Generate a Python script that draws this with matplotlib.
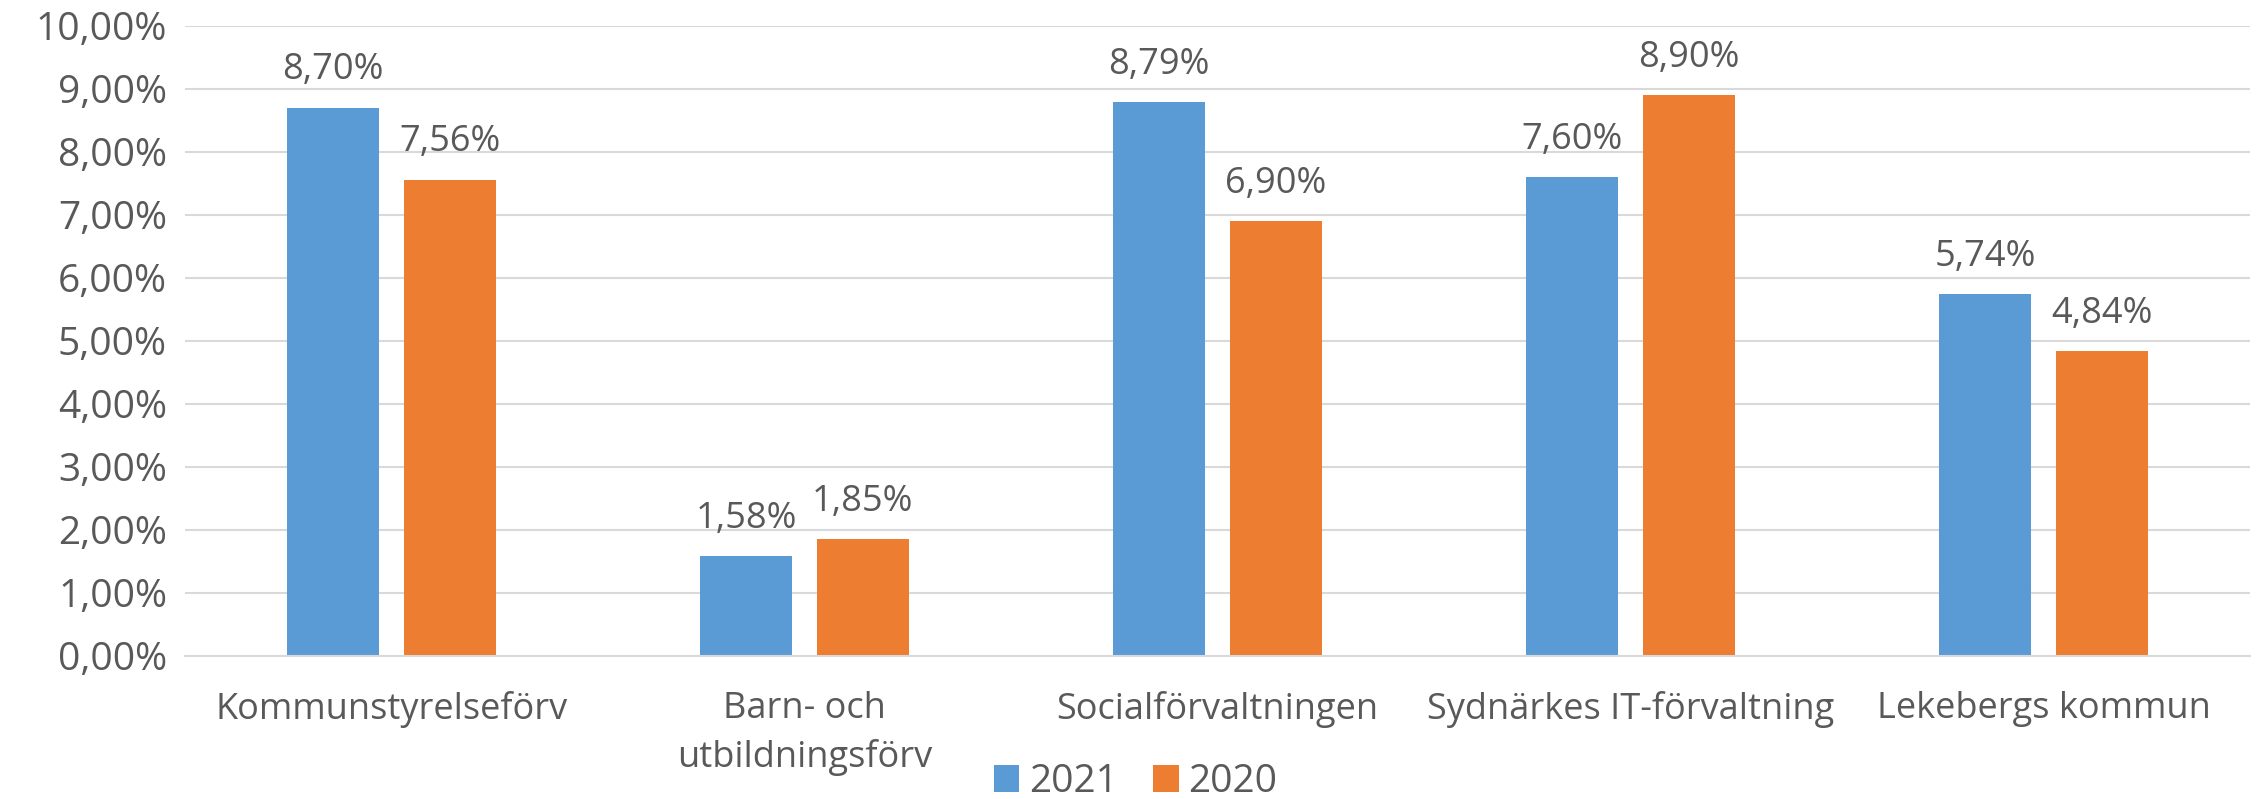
import matplotlib.pyplot as plt
from matplotlib.ticker import FuncFormatter, MultipleLocator
import numpy as np

# data
categories = ["Kommunstyrelseförv", "Barn- och\nutbildningsförv", "Socialförvaltningen",
              "Sydnärkes IT-förvaltning", "Lekebergs kommun"]
years = ["2021", "2020"]
values_2021 = [0.0870, 0.0158, 0.0879, 0.0760, 0.0574]
values_2020 = [0.0756, 0.0185, 0.0690, 0.0890, 0.0484]

blue = "#5B9BD5"
orange = "#ED7D31"
text_col = "#595959"

plt.rcParams['font.family'] = ['Open Sans', 'DejaVu Sans']


def pct(v, pos=None):
    return f"{v * 100:.2f}%".replace(".", ",")


fig = plt.figure(figsize=(22.62, 7.99), dpi=100)
ax = fig.add_axes([0.0818, 0.179, 0.9129, 0.7885])

x = np.arange(len(categories))
width = 0.223
gap = 0.059
off = (width + gap) / 2

b1 = ax.bar(x - off, values_2021, width, color=blue, label=years[0], zorder=2)
b2 = ax.bar(x + off, values_2020, width, color=orange, label=years[1], zorder=2)

for bars in (b1, b2):
    for rect in bars:
        h = rect.get_height()
        ax.annotate(pct(h), (rect.get_x() + rect.get_width() / 2, h),
                    xytext=(0, 14), textcoords="offset points",
                    ha="center", va="bottom", fontsize=26, color=text_col)

ax.set_ylim(0, 0.10)
ax.set_xlim(-0.5, len(categories) - 0.5)
ax.yaxis.set_major_locator(MultipleLocator(0.01))
ax.yaxis.set_major_formatter(FuncFormatter(pct))
ax.grid(axis="y", color="#D9D9D9", linewidth=1.5, zorder=0)
ax.set_axisbelow(True)

ax.set_xticks(x)
ax.set_xticklabels(categories, linespacing=1.45)
ax.tick_params(axis="y", length=0, pad=13, labelsize=28, labelcolor=text_col)
ax.tick_params(axis="x", length=0, pad=25, labelsize=26, labelcolor=text_col)

for s in ["top", "right", "left"]:
    ax.spines[s].set_visible(False)
ax.spines["bottom"].set_color("#D9D9D9")
ax.spines["bottom"].set_linewidth(1.5)

leg = fig.legend(loc="center", bbox_to_anchor=(0.502, 0.021), ncol=2, frameon=False,
                 fontsize=28, handlelength=0.66, handleheight=0.66,
                 handletextpad=0.25, columnspacing=0.9, borderaxespad=0)
for t in leg.get_texts():
    t.set_color(text_col)

fig.savefig("out.png", dpi=100)
